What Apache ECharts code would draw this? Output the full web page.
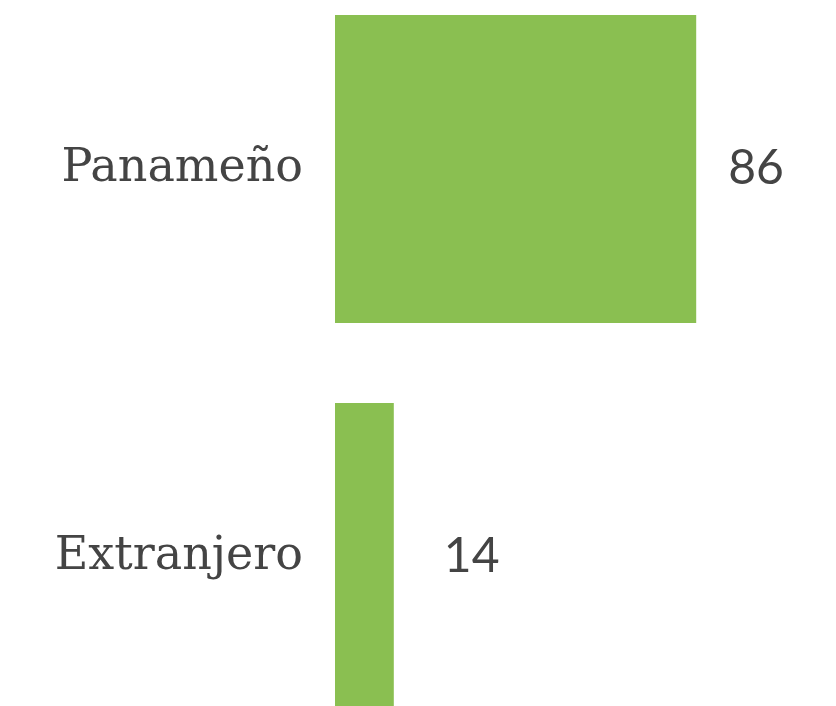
<!DOCTYPE html>
<html>
<head>
<meta charset="utf-8">
<script src="https://cdn.jsdelivr.net/npm/echarts@6/dist/echarts.min.js"></script>
<style>
html, body { margin: 0; padding: 0; background: #fff; }
#chart { width: 836px; height: 706px; }
</style>
</head>
<body>
<div id="chart"></div>
<script>
// categorias y valores
var categories = ['Panameño', 'Extranjero'];
var values = [86, 14];
var labelGaps = [32, 50];

var myChart = echarts.init(document.getElementById('chart'));
var fontName = 'DejaVu Serif';
var option = {
    animation: false,
    grid: {
        left: 335,
        width: 420,
        top: -25,
        height: 776,
        outerBoundsMode: 'none',
        containLabel: false
    },
    xAxis: {
        type: 'value',
        min: 0,
        max: 100,
        show: false
    },
    yAxis: {
        type: 'category',
        inverse: true,
        data: categories,
        axisLine: { show: false },
        axisTick: { show: false },
        axisLabel: {
            margin: 32,
            color: '#444444',
            fontFamily: fontName,
            fontSize: 46
        }
    },
    series: [
        {
            type: 'bar',
            barCategoryGap: '20.6%',
            itemStyle: { color: '#8abf51' },
            data: values.map(function (v, i) {
                return {
                    value: v,
                    label: { distance: labelGaps[i] }
                };
            }),
            label: {
                show: true,
                position: 'right',
                color: '#444444',
                fontFamily: 'Lato',
                fontSize: 48
            }
        }
    ]
};
myChart.setOption(option, true);
</script>
</body>
</html>
